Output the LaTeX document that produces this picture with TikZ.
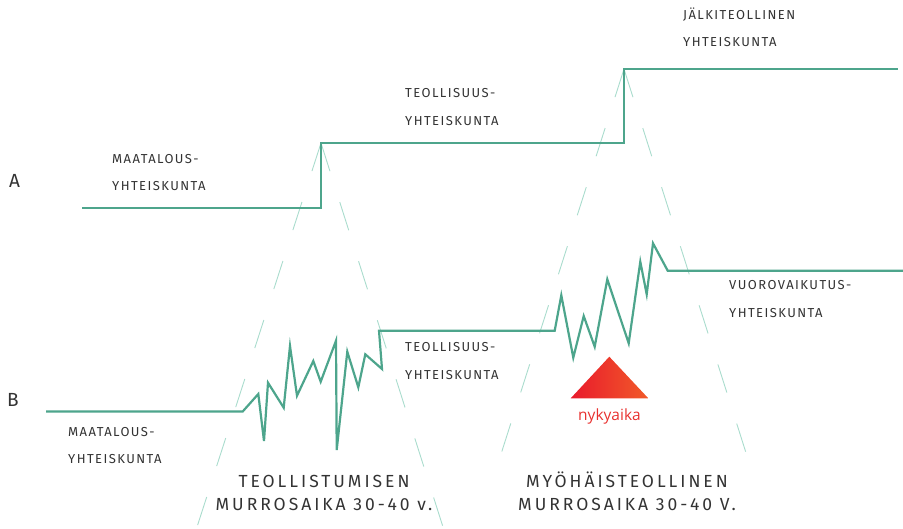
\documentclass[tikz,border=0pt]{standalone}
\usepackage{fontspec}
\setmainfont{Fira Sans}
\newfontfamily\capsfont[LetterSpace=11]{Fira Sans}
\newfontfamily\bigfont[LetterSpace=17]{Fira Sans}
\newfontfamily\nowfont{Open Sans}
\definecolor{kehitys}{HTML}{4DA58C}
\definecolor{apuviiva}{HTML}{A9DCCD}
\definecolor{teksti}{HTML}{333333}
\definecolor{nytpuna}{HTML}{E91A2C}
\definecolor{nytoranssi}{HTML}{F15A29}
\definecolor{nytteksti}{HTML}{E8312F}

\begin{document}
\begin{tikzpicture}[x=1pt, y=-1pt,
	kayra/.style={line width=2.2pt, color=kehitys},
	apu/.style={line width=0.9pt, color=apuviiva, dash pattern=on 29.5pt off 32.5pt},
	pieni/.style={anchor=base west, inner sep=0pt, align=left, text=teksti,
		font=\capsfont\fontsize{13}{27.5}\selectfont},
	iso/.style={anchor=base, inner sep=0pt, align=center, text=teksti,
		font=\bigfont\fontsize{17.5}{23}\selectfont},
	kirjain/.style={anchor=base west, inner sep=0pt, text=teksti,
		font=\fontsize{19}{22}\selectfont},
	nyt/.style={anchor=base, inner sep=0pt, text=nytteksti,
		font=\nowfont\fontsize{15.5}{18}\selectfont}]
			%%%%% START %%%%%
			\useasboundingbox (0,0) rectangle (903,528);
			
			% murrosajat
			\coordinate (murros1) at (321,143);
			\coordinate (murros2) at (624,69);
			\draw[apu] (murros1) -- ++(-124,384);
			\draw[apu] (murros1) -- ++(122,384);
			\draw[apu] (murros2) -- ++(-123.3,386);
			\draw[apu] (murros2) -- ++(122.7,386);
			
			% kehitys A
			\draw[kayra] (82,208) -- (321,208) -- (murros1) -- (624,143) -- (murros2) -- (898,69);
			
			% kehitys B
			\draw[kayra] (46,411.5) -- (242.7,411.5) -- (258.3,394) -- (264,441) -- (268,382.7)
				-- (283.7,407.7) -- (290,346) -- (297,395.7) -- (313.3,361) -- (320.7,381.7)
				-- (336,340.7) -- (336.7,450) -- (347.3,351.7) -- (358.3,387.3) -- (365.3,354.3)
				-- (382,369) -- (379,330.7) -- (554.7,330.7) -- (561.3,295.3) -- (573.3,357.7)
				-- (583.7,316) -- (594.7,346.7) -- (607.3,279.3) -- (628.7,343.3) -- (640.3,261.7)
				-- (646.7,294.3) -- (653,243.3) -- (667.7,270.7) -- (903,270.7);
			
			\node[kirjain] (a) at (9,187) {A};
			\node[kirjain] (b) at (7,406.5) {B};
			
			% base = alarivin perusviiva
			\node[pieni] (maatalousA) at (112,190.8) {MAATALOUS-\\YHTEISKUNTA};
			\node[pieni] (teollisuusA) at (405,125) {TEOLLISUUS-\\YHTEISKUNTA};
			\node[pieni] (jalkiteollinen) at (683,46.5) {JÄLKITEOLLINEN\\YHTEISKUNTA};
			\node[pieni] (vuorovaikutus) at (729,317) {VUOROVAIKUTUS-\\YHTEISKUNTA};
			\node[pieni] (teollisuusB) at (405,379) {TEOLLISUUS-\\YHTEISKUNTA};
			\node[pieni] (maatalousB) at (68,463.5) {MAATALOUS-\\YHTEISKUNTA};
			
			% nykyaika
			\shade[left color=nytpuna, right color=nytoranssi] (570.7,398.3) -- (609.3,356.7) -- (648.3,398.3) -- cycle;
			\node[nyt] (nykyaika) at (609.5,420.7) {nykyaika};
			
			\node[iso] (murrosaika1) at (324,510.5) {TEOLLISTUMISEN\\MURROSAIKA 30-40 v.};
			\node[iso] (murrosaika2) at (627,510.5) {MYÖHÄISTEOLLINEN\\MURROSAIKA 30-40 V.};
			%%%%% END %%%%%
\end{tikzpicture}
\end{document}
